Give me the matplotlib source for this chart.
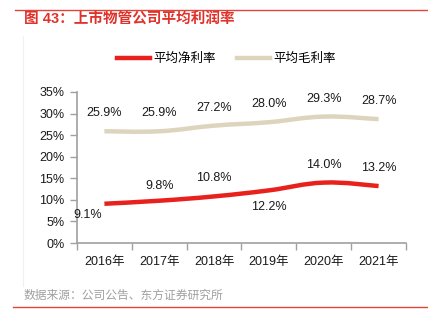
import matplotlib
matplotlib.use("Agg")
import matplotlib.pyplot as plt
import numpy as np
from matplotlib.path import Path
from matplotlib.patches import PathPatch
from matplotlib.lines import Line2D

plt.rcParams['font.family'] = ['Liberation Sans', 'Noto Sans CJK SC', 'DejaVu Sans']

years = ['2016年', '2017年', '2018年', '2019年', '2020年', '2021年']
net_margin = [9.1, 9.8, 10.8, 12.2, 14.0, 13.2]
gross_margin = [25.9, 25.9, 27.2, 28.0, 29.3, 28.7]

RED = '#E8211C'
BEIGE = '#DDD4BD'


def smooth_path(xs, ys, k=0.2):
    # catmull-rom style bezier through the points
    xs = np.asarray(xs, float)
    ys = np.asarray(ys, float)
    n = len(xs)
    verts = [(xs[0], ys[0])]
    codes = [Path.MOVETO]
    for i in range(n - 1):
        p0 = i - 1 if i > 0 else i
        p3 = i + 2 if i + 2 < n else i + 1
        c1 = (xs[i] + (xs[i + 1] - xs[p0]) * k, ys[i] + (ys[i + 1] - ys[p0]) * k)
        c2 = (xs[i + 1] - (xs[p3] - xs[i]) * k, ys[i + 1] - (ys[p3] - ys[i]) * k)
        verts += [c1, c2, (xs[i + 1], ys[i + 1])]
        codes += [Path.CURVE4] * 3
    return Path(verts, codes)


fig = plt.figure(figsize=(4.28, 3.31), dpi=100)
ax = fig.add_axes([77 / 428, 1 - 243 / 331, 329 / 428, 151 / 331])

x = np.arange(len(years))
for vals, col in [(net_margin, RED), (gross_margin, BEIGE)]:
    ax.add_patch(PathPatch(smooth_path(x, vals), fill=False, edgecolor=col,
                           lw=3.2, capstyle='butt'))

# value labels
net_off = [(-17, -11), (0, 15), (0, 18), (0, -17), (0, 18), (0, 18)]
for xi, v, off in zip(x, net_margin, net_off):
    ax.annotate(f'{v:.1f}%', (xi, v), xytext=off, textcoords='offset pixels',
                ha='center', va='center', fontsize=9, color='#1a1a1a')
for xi, v in zip(x, gross_margin):
    ax.annotate(f'{v:.1f}%', (xi, v), xytext=(0, 18), textcoords='offset pixels',
                ha='center', va='center', fontsize=9, color='#1a1a1a')

ax.set_xlim(-0.5, len(years) - 0.5)
ax.set_ylim(0, 35)
ax.set_yticks(np.arange(0, 36, 5))
ax.set_yticklabels([f'{t}%' for t in range(0, 36, 5)])
ax.set_xticks(x)
ax.set_xticklabels(years)
ax.set_xticks(np.arange(-0.5, len(years), 1), minor=True)
ax.tick_params(axis='x', which='major', length=0, pad=9, labelsize=9, labelcolor='#1a1a1a')
ax.tick_params(axis='x', which='minor', length=5, width=1, color='#a0a0a0', direction='out')
ax.tick_params(axis='y', length=5, width=1, color='#a0a0a0', pad=4, labelsize=9,
               labelcolor='#1a1a1a')
for s in ['top', 'right']:
    ax.spines[s].set_visible(False)
for s in ['left', 'bottom']:
    ax.spines[s].set_color('#a0a0a0')
    ax.spines[s].set_linewidth(1.2)
ax.set_facecolor('none')

handles = [Line2D([], [], color=RED, lw=3.2), Line2D([], [], color=BEIGE, lw=3.2)]
fig.legend(handles, ['平均净利率', '平均毛利率'], loc='center', ncol=2,
           bbox_to_anchor=(226.5 / 428, 1 - 59 / 331), frameon=False, fontsize=9,
           handlelength=2.6, handletextpad=0.3, columnspacing=1.7)

# page decorations
fig.add_artist(Line2D([15 / 428, 1], [1 - 9.5 / 331] * 2, color='#E0443B', lw=1.0))
fig.add_artist(Line2D([13 / 428, 1], [1 - 307 / 331] * 2, color='#E0443B', lw=1.0))
fig.add_artist(Line2D([23 / 428] * 2, [1 - 36 / 331, 1 - 286 / 331], color='#f0f0f0', lw=0.8))
fig.text(24 / 428, 1 - 20 / 331, '图 43：上市物管公司平均利润率', color='#E0312A',
         fontsize=10.5, fontweight='bold', va='center', ha='left')
fig.text(24 / 428, 1 - 296 / 331, '数据来源：公司公告、东方证券研究所', color='#a0a0a0',
         fontsize=8.5, va='center', ha='left')

fig.savefig('out.png', dpi=100)
